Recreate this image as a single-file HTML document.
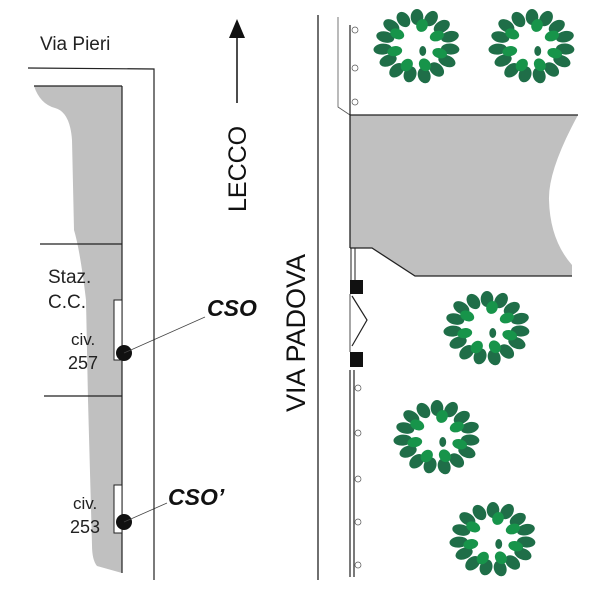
<!DOCTYPE html>
<html><head><style>html,body{margin:0;padding:0;background:#fff;width:600px;height:600px;overflow:hidden}</style></head>
<body>
<svg width="600" height="600" viewBox="0 0 600 600" xmlns="http://www.w3.org/2000/svg" font-family="Liberation Sans, Arial, sans-serif">
<defs>
<g id="tree">
 <g transform="scale(1.15,1)">
  <g fill="#1f6e48">
   <ellipse rx="5.5" ry="8" transform="rotate(0) translate(0,-29)"/>
   <ellipse rx="5.5" ry="8" transform="rotate(24) translate(0,-30)"/>
   <ellipse rx="5.5" ry="8" transform="rotate(48) translate(0,-29)"/>
   <ellipse rx="5.5" ry="8" transform="rotate(72) translate(0,-30)"/>
   <ellipse rx="5.5" ry="8" transform="rotate(96) translate(0,-29)"/>
   <ellipse rx="5.5" ry="8" transform="rotate(120) translate(0,-30)"/>
   <ellipse rx="5.5" ry="8" transform="rotate(144) translate(0,-29)"/>
   <ellipse rx="5.5" ry="8" transform="rotate(168) translate(0,-30)"/>
   <ellipse rx="5.5" ry="8" transform="rotate(192) translate(0,-29)"/>
   <ellipse rx="5.5" ry="8" transform="rotate(216) translate(0,-30)"/>
   <ellipse rx="5.5" ry="8" transform="rotate(240) translate(0,-29)"/>
   <ellipse rx="5.5" ry="8" transform="rotate(264) translate(0,-30)"/>
   <ellipse rx="5.5" ry="8" transform="rotate(288) translate(0,-29)"/>
   <ellipse rx="5.5" ry="8" transform="rotate(312) translate(0,-30)"/>
   <ellipse rx="5.5" ry="8" transform="rotate(336) translate(0,-29)"/>
  </g>
  <g fill="#17944a">
   <ellipse rx="5" ry="6.5" transform="rotate(12) translate(0,-21)"/>
   <ellipse rx="5" ry="6.5" transform="rotate(60) translate(0,-20)"/>
   <ellipse rx="5" ry="6.5" transform="rotate(110) translate(0,-21)"/>
   <ellipse rx="5" ry="6.5" transform="rotate(160) translate(0,-20)"/>
   <ellipse rx="5" ry="6.5" transform="rotate(205) translate(0,-21)"/>
   <ellipse rx="5" ry="6.5" transform="rotate(255) translate(0,-20)"/>
   <ellipse rx="5" ry="6.5" transform="rotate(305) translate(0,-21)"/>
  </g>
  <ellipse fill="#1f6e48" cx="5" cy="5" rx="3" ry="5"/>
 </g>
</g>
</defs>

<path d="M34,86 L122,86 L122,573 L97,566 Q92,560 92,545 L88,400 L86,300 Q80,250 74,230 L72,140 Q70,112 55,108 Q40,104 34,86 Z" fill="#c0c0c0"/>
<line x1="34" y1="86" x2="122" y2="86" stroke="#222" stroke-width="1.2"/>
<line x1="122" y1="86" x2="122" y2="573" stroke="#222" stroke-width="1.2"/>
<line x1="40" y1="244" x2="122" y2="244" stroke="#222" stroke-width="1.2"/>
<line x1="44" y1="396" x2="122" y2="396" stroke="#222" stroke-width="1.2"/>
<rect x="114" y="300" width="8" height="60" fill="#fff" stroke="#222" stroke-width="1"/>
<rect x="114" y="485" width="8" height="48" fill="#fff" stroke="#222" stroke-width="1"/>
<circle cx="124" cy="353" r="8" fill="#111"/>
<circle cx="124" cy="522" r="8" fill="#111"/>
<line x1="124" y1="353" x2="205" y2="317" stroke="#444" stroke-width="0.8"/>
<line x1="124" y1="522" x2="167" y2="503" stroke="#444" stroke-width="0.8"/>

<polyline points="28,68 154,69 154,580" fill="none" stroke="#222" stroke-width="1.2"/>
<line x1="318" y1="15" x2="318" y2="580" stroke="#222" stroke-width="1.3"/>
<polyline points="338,17 338,107 350,115" fill="none" stroke="#555" stroke-width="0.8"/>
<line x1="350" y1="25" x2="350" y2="115" stroke="#222" stroke-width="1.2"/>
<circle cx="355" cy="30" r="3" fill="#fff" stroke="#555" stroke-width="0.7"/>
<circle cx="355" cy="68" r="3" fill="#fff" stroke="#555" stroke-width="0.7"/>
<circle cx="355" cy="102" r="3" fill="#fff" stroke="#555" stroke-width="0.7"/>

<path d="M350,115 L578,115 Q548,170 549,200 Q550,240 572,265 L572,276 L415,276 L372,248 L350,248 Z" fill="#c0c0c0"/>
<polyline points="350,248 350,115 578,115" fill="none" stroke="#222" stroke-width="1.3"/>
<polyline points="350,248 372,248 415,276 572,276" fill="none" stroke="#222" stroke-width="1.3"/>
<line x1="351" y1="248" x2="351" y2="281" stroke="#222" stroke-width="1"/>
<line x1="355" y1="248" x2="355" y2="281" stroke="#222" stroke-width="1"/>
<rect x="350" y="280" width="13" height="14" fill="#111"/>
<rect x="350" y="352" width="13" height="15" fill="#111"/>
<line x1="350" y1="294" x2="350" y2="352" stroke="#222" stroke-width="0.8"/>
<polyline points="352,296 367,320 352,346" fill="none" stroke="#222" stroke-width="1.2"/>
<line x1="350" y1="370" x2="350" y2="577" stroke="#222" stroke-width="1.2"/>
<line x1="354" y1="370" x2="354" y2="577" stroke="#222" stroke-width="1.2"/>
<circle cx="358" cy="388" r="3" fill="#fff" stroke="#555" stroke-width="0.7"/>
<circle cx="358" cy="433" r="3" fill="#fff" stroke="#555" stroke-width="0.7"/>
<circle cx="358" cy="479" r="3" fill="#fff" stroke="#555" stroke-width="0.7"/>
<circle cx="358" cy="522" r="3" fill="#fff" stroke="#555" stroke-width="0.7"/>
<circle cx="358" cy="565" r="3" fill="#fff" stroke="#555" stroke-width="0.7"/>

<line x1="237" y1="30" x2="237" y2="103" stroke="#111" stroke-width="1.5"/>
<polygon points="237,19 229,38 245,38" fill="#111"/>

<use href="#tree" x="417" y="46"/>
<use href="#tree" x="532" y="46"/>
<use href="#tree" x="487" y="328"/>
<use href="#tree" x="437" y="437"/>
<use href="#tree" x="493" y="539"/>

<text x="40" y="50" font-size="19" fill="#222">Via Pieri</text>
<text x="48" y="283" font-size="19" fill="#222">Staz.</text>
<text x="48" y="308" font-size="19" fill="#222">C.C.</text>
<text x="71" y="345" font-size="17" fill="#222">civ.</text>
<text x="68" y="369" font-size="18" fill="#222">257</text>
<text x="73" y="509" font-size="17" fill="#222">civ.</text>
<text x="70" y="533" font-size="18" fill="#222">253</text>
<text x="207" y="316" font-size="23" font-weight="bold" font-style="italic" fill="#111">CSO</text>
<text x="168" y="505" font-size="23" font-weight="bold" font-style="italic" fill="#111">CSO’</text>
<text transform="translate(246,212) rotate(-90)" font-size="25" fill="#111">LECCO</text>
<text transform="translate(305,412) rotate(-90)" font-size="27" fill="#111">VIA PADOVA</text>
</svg>
</body></html>
